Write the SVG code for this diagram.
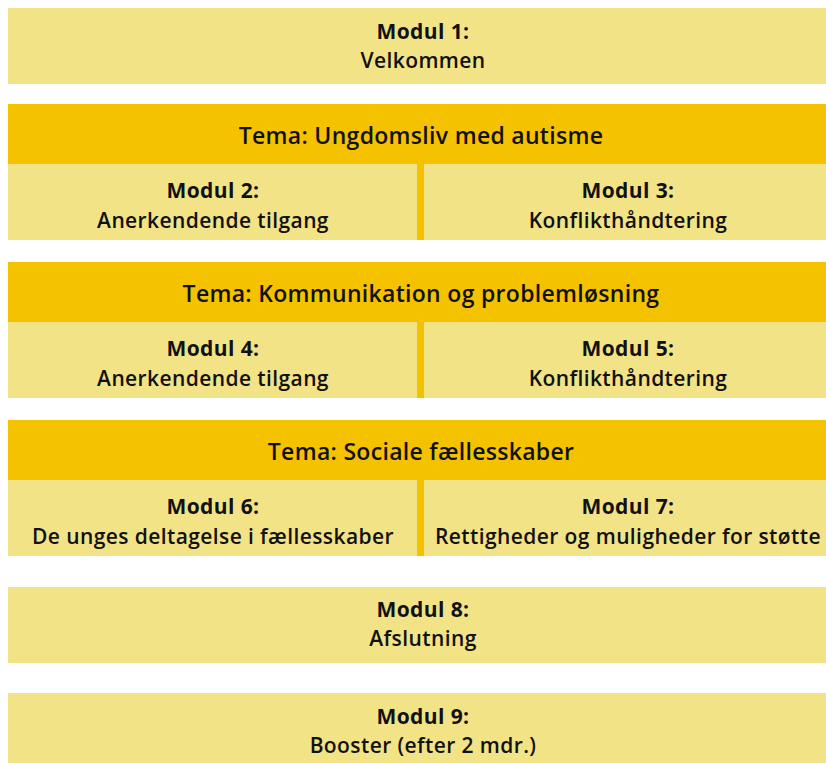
<svg xmlns="http://www.w3.org/2000/svg" width="826" height="763" viewBox="0 0 826 763">
<style>
.box{fill:#F3E387}
.theme{fill:#F5C200}
text{font-family:"Open Sans","Noto Sans",sans-serif;fill:#111;text-anchor:middle}
.h{font-size:21px;font-weight:700;letter-spacing:0.4px}
.s{font-size:21px;font-weight:600;letter-spacing:0.4px}
.t{font-size:23px;font-weight:600;letter-spacing:0.3px}
</style>
<rect width="826" height="763" fill="#fff"/>
<g id="modul1">
<rect class="box" x="8" y="8" width="818" height="76"/>
<text class="h" x="423" y="39">Modul 1:</text>
<text class="s" x="423" y="68">Velkommen</text>
</g>
<g id="tema1">
<rect class="theme" x="8" y="104" width="818" height="60"/>
<text class="t" x="421" y="144">Tema: Ungdomsliv med autisme</text>
</g>
<g id="modul2">
<rect class="box" x="8" y="164" width="409" height="76"/>
<text class="h" x="213" y="198">Modul 2:</text>
<text class="s" x="213" y="228">Anerkendende tilgang</text>
</g>
<g id="modul3">
<rect class="theme" x="417" y="164" width="7" height="76"/>
<rect class="box" x="424" y="164" width="402" height="76"/>
<text class="h" x="628" y="198">Modul 3:</text>
<text class="s" x="628" y="228">Konflikthåndtering</text>
</g>
<g id="tema2">
<rect class="theme" x="8" y="262" width="818" height="60"/>
<text class="t" x="421" y="302">Tema: Kommunikation og problemløsning</text>
</g>
<g id="modul4">
<rect class="box" x="8" y="322" width="409" height="76"/>
<text class="h" x="213" y="356">Modul 4:</text>
<text class="s" x="213" y="386">Anerkendende tilgang</text>
</g>
<g id="modul5">
<rect class="theme" x="417" y="322" width="7" height="76"/>
<rect class="box" x="424" y="322" width="402" height="76"/>
<text class="h" x="628" y="356">Modul 5:</text>
<text class="s" x="628" y="386">Konflikthåndtering</text>
</g>
<g id="tema3">
<rect class="theme" x="8" y="420" width="818" height="60"/>
<text class="t" x="421" y="460">Tema: Sociale fællesskaber</text>
</g>
<g id="modul6">
<rect class="box" x="8" y="480" width="409" height="76"/>
<text class="h" x="213" y="514">Modul 6:</text>
<text class="s" x="213" y="544">De unges deltagelse i fællesskaber</text>
</g>
<g id="modul7">
<rect class="theme" x="417" y="480" width="7" height="76"/>
<rect class="box" x="424" y="480" width="402" height="76"/>
<text class="h" x="628" y="514">Modul 7:</text>
<text class="s" x="628" y="544">Rettigheder og muligheder for støtte</text>
</g>
<g id="modul8">
<rect class="box" x="8" y="587" width="818" height="76"/>
<text class="h" x="423" y="617">Modul 8:</text>
<text class="s" x="423" y="646">Afslutning</text>
</g>
<g id="modul9">
<rect class="box" x="8" y="693" width="818" height="70"/>
<text class="h" x="423" y="724">Modul 9:</text>
<text class="s" x="423" y="753">Booster (efter 2 mdr.)</text>
</g>
<g id="connectors"></g>
</svg>
